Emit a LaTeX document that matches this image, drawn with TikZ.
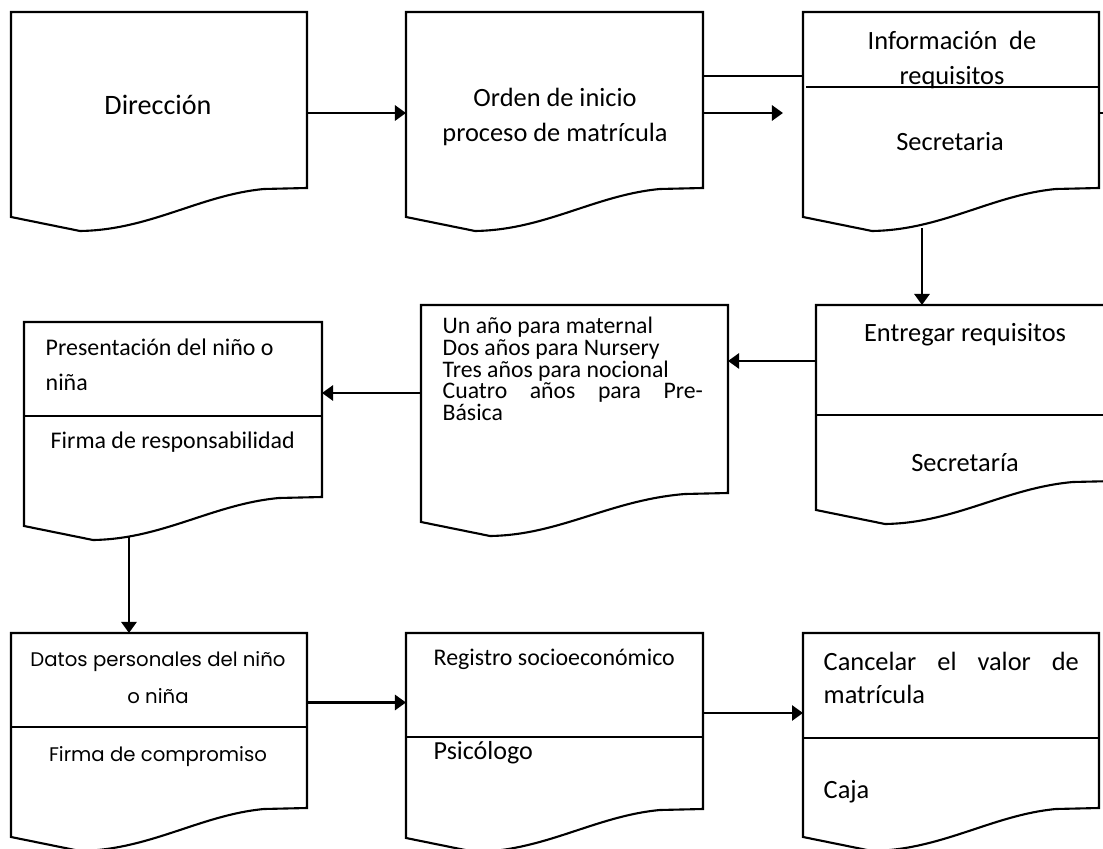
\documentclass[tikz,border=0pt]{standalone}
\usepackage{fontspec}
\setmainfont{Carlito}
\newfontfamily\comicfont{Poppins}
\usetikzlibrary{arrows.meta, calc}

\tikzset{
  boxarea/.style={inner sep=0pt, outer sep=0pt, anchor=north west},
  boxline/.style={line width=0.6pt, line join=miter},
  divline/.style={line width=0.45pt},
  flow/.style={line width=0.75pt, -{Triangle[length=1.1mm, width=1.5mm]}},
  link/.style={line width=0.75pt},
  lbl/.style={inner sep=0pt, font=\fontsize{7.5}{10}\selectfont},
}

% caja tipo documento: nombre, izquierda, arriba, ancho, alto de la parte recta
\newcommand{\docbox}[5]{%
  \node[boxarea, minimum width=#4*0.01cm, minimum height=#5*0.01cm] (#1) at (#2,#3) {};
  \draw[boxline] (#1.north west) -- (#1.north east) -- (#1.south east)
    -- ([shift={(-43,1)}]#1.south east)
    .. controls ([shift={(189,7)}]#1.south west) and ([shift={(139,42)}]#1.south west)
    .. ([shift={(69,43)}]#1.south west) -- ([shift={(0,29)}]#1.south west) -- cycle;
}

\begin{document}
\begin{tikzpicture}[x=0.01cm, y=-0.01cm]
  \useasboundingbox (0,0) rectangle (1103,849);
  \clip (0,0) rectangle (1103,849);

  % fila superior
  \docbox{dir}{11}{12}{296}{176}
  \docbox{orden}{406}{12}{297}{176}
  \docbox{info}{803}{12}{296}{176}
  % fila central
  \docbox{pres}{24}{322}{298}{175}
  \docbox{anos}{421}{305}{307}{188}
  \docbox{entrega}{816}{305}{300}{176}
  % fila inferior
  \docbox{datos}{11}{633}{296}{175}
  \docbox{reg}{406}{633}{297}{176}
  \docbox{canc}{803}{633}{296}{175}

  % divisiones
  \draw[divline] ([shift={(3,75)}]info.north west) -- ([shift={(0,75)}]info.north east);
  \foreach \b/\d in {pres/94, entrega/110, datos/94, reg/104, canc/105}
    \draw[divline] ([shift={(0,\d)}]\b.north west) -- ([shift={(0,\d)}]\b.north east);

  % textos
  \node[lbl, font=\fontsize{8}{10}\selectfont] (dirtxt) at (158,105) {Dirección};
  \node[lbl, align=center] (ordentxt) at (555,117) {Orden de inicio\\proceso de matrícula};
  \node[lbl, align=center] (infotxt) at (952,60) {Información\ \ de\\requisitos};
  \node[lbl] (infosec) at (950,142) {Secretaria};
  \node[lbl, anchor=west, align=left, font=\fontsize{6.8}{10}\selectfont] (prestxt) at (45,365)
    {Presentación del niño o\\niña};
  \node[lbl, anchor=west, font=\fontsize{6.8}{10}\selectfont] (presfirma) at (50,442) {Firma de responsabilidad};
  \node[lbl, anchor=west, align=left, font=\fontsize{6.75}{6.2}\selectfont] (anostxt) at (442,369)
    {Un año para maternal\\Dos años para Nursery\\Tres años para nocional\\%
     \makebox[2.6cm][s]{Cuatro años para Pre-}\\Básica};
  \node[lbl] (entrtxt) at (965,335) {Entregar requisitos};
  \node[lbl] (entrsec) at (965,463) {Secretaría};
  \node[lbl, align=center, font=\comicfont\fontsize{5.6}{10.5}\selectfont] (datostxt) at (158,678)
    {Datos personales del niño\\o niña};
  \node[lbl, font=\comicfont\fontsize{5.6}{10}\selectfont] (datosfirma) at (158,757) {Firma de compromiso};
  \node[lbl, anchor=west, font=\fontsize{6.8}{10}\selectfont] (regtxt) at (433,659) {Registro socioeconómico};
  \node[lbl, anchor=west, font=\fontsize{7.4}{10}\selectfont] (regpsi) at (433,753) {Psicólogo};
  \node[lbl, anchor=west, align=left, font=\fontsize{7.5}{9.4}\selectfont] (canctxt) at (823,678)
    {\makebox[2.55cm][s]{Cancelar el valor de}\\matrícula};
  \node[lbl, anchor=west] (canccaja) at (823,792) {Caja};

  % conectores
  \draw[flow] ([yshift=-0.13cm]dir.east) -- ([yshift=-0.13cm]orden.west);
  \draw[link] ([yshift=0.24cm]orden.east) -- ([yshift=0.24cm]info.west);
  \draw[flow] ([yshift=-0.13cm]orden.east) -- ([xshift=-0.2cm, yshift=-0.13cm]info.west);
  \draw[link] ([yshift=-0.13cm]info.east) -- ++(6,0);
  \coordinate (infoout) at ([xshift=-0.29cm, yshift=-0.40cm]info.south);
  \draw[flow] (infoout) -- (infoout |- entrega.north);
  \coordinate (entrin) at ([yshift=0.32cm]entrega.west);
  \draw[flow] (entrin) -- (entrin -| anos.east);
  \coordinate (anosout) at ([yshift=0.06cm]anos.west);
  \draw[flow] (anosout) -- (anosout -| pres.east);
  \coordinate (presout) at ([xshift=-0.44cm, yshift=-0.40cm]pres.south);
  \draw[flow] (presout) -- (presout |- datos.north);
  \coordinate (datosout) at ([yshift=0.18cm]datos.east);
  \draw[flow] (datosout) -- (datosout -| reg.west);
  \coordinate (regout) at ([yshift=0.08cm]reg.east);
  \draw[flow] (regout) -- (regout -| canc.west);
\end{tikzpicture}
\end{document}
